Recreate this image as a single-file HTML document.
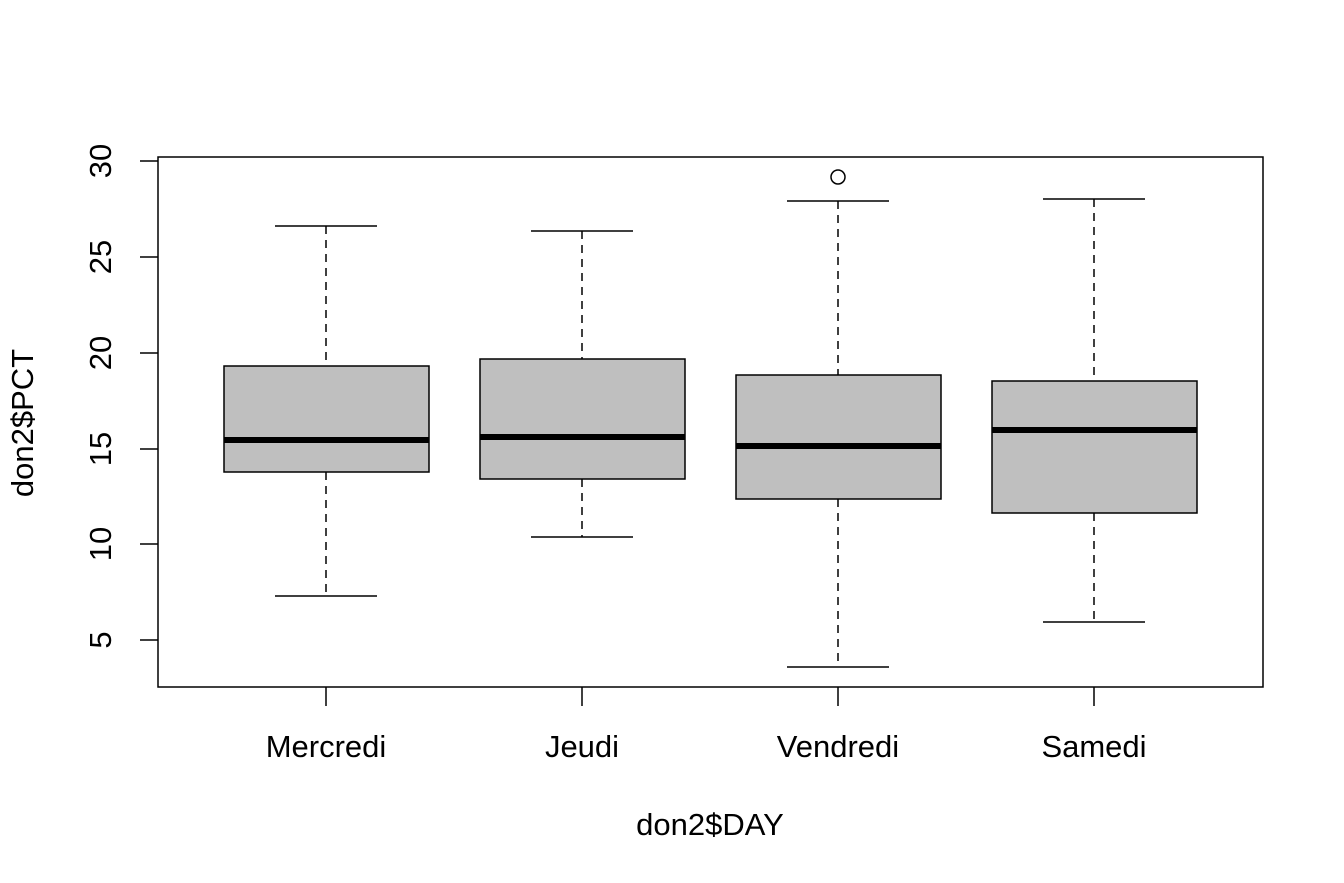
<!DOCTYPE html>
<html><head><style>body{margin:0;background:#fff}svg{display:block}</style></head><body>
<svg width="1344" height="883" xmlns="http://www.w3.org/2000/svg" font-family="Liberation Sans, sans-serif" font-size="31">
<rect width="1344" height="883" fill="#fff"/>
<g stroke="#000" stroke-width="1.5" fill="none">
<rect x="158" y="157" width="1105" height="530"/>
<line x1="140" y1="161" x2="158" y2="161"/><line x1="140" y1="257" x2="158" y2="257"/>
<line x1="140" y1="353" x2="158" y2="353"/><line x1="140" y1="449" x2="158" y2="449"/>
<line x1="140" y1="544" x2="158" y2="544"/><line x1="140" y1="640" x2="158" y2="640"/>
<line x1="326" y1="687" x2="326" y2="706"/><line x1="582" y1="687" x2="582" y2="706"/>
<line x1="838" y1="687" x2="838" y2="706"/><line x1="1094" y1="687" x2="1094" y2="706"/>
<g stroke-dasharray="8,6">
<line x1="326" y1="226" x2="326" y2="366"/><line x1="326" y1="472" x2="326" y2="596"/>
<line x1="582" y1="231" x2="582" y2="359"/><line x1="582" y1="479" x2="582" y2="537"/>
<line x1="838" y1="201" x2="838" y2="375"/><line x1="838" y1="499" x2="838" y2="667"/>
<line x1="1094" y1="199" x2="1094" y2="381"/><line x1="1094" y1="513" x2="1094" y2="622"/>
</g>
<line x1="275" y1="226" x2="377" y2="226"/><line x1="275" y1="596" x2="377" y2="596"/>
<line x1="531" y1="231" x2="633" y2="231"/><line x1="531" y1="537" x2="633" y2="537"/>
<line x1="787" y1="201" x2="889" y2="201"/><line x1="787" y1="667" x2="889" y2="667"/>
<line x1="1043" y1="199" x2="1145" y2="199"/><line x1="1043" y1="622" x2="1145" y2="622"/>
</g>
<g stroke="#000" stroke-width="1.5" fill="#bfbfbf">
<rect x="224" y="366" width="205" height="106"/>
<rect x="480" y="359" width="205" height="120"/>
<rect x="736" y="375" width="205" height="124"/>
<rect x="992" y="381" width="205" height="132"/>
</g>
<g stroke="#000" stroke-width="6">
<line x1="224" y1="440" x2="429" y2="440"/><line x1="480" y1="437" x2="685" y2="437"/>
<line x1="736" y1="446" x2="941" y2="446"/><line x1="992" y1="430" x2="1197" y2="430"/>
</g>
<circle cx="838" cy="177" r="7" fill="none" stroke="#000" stroke-width="1.5"/>
<g text-anchor="middle">
<text x="326" y="757">Mercredi</text><text x="582" y="757">Jeudi</text>
<text x="838" y="757">Vendredi</text><text x="1094" y="757">Samedi</text>
<text x="710" y="835">don2$DAY</text>
<text transform="translate(111,161) rotate(-90)">30</text>
<text transform="translate(111,257) rotate(-90)">25</text>
<text transform="translate(111,353) rotate(-90)">20</text>
<text transform="translate(111,449) rotate(-90)">15</text>
<text transform="translate(111,544) rotate(-90)">10</text>
<text transform="translate(111,640) rotate(-90)">5</text>
<text transform="translate(33,423) rotate(-90)">don2$PCT</text>
</g>
</svg>
</body></html>
